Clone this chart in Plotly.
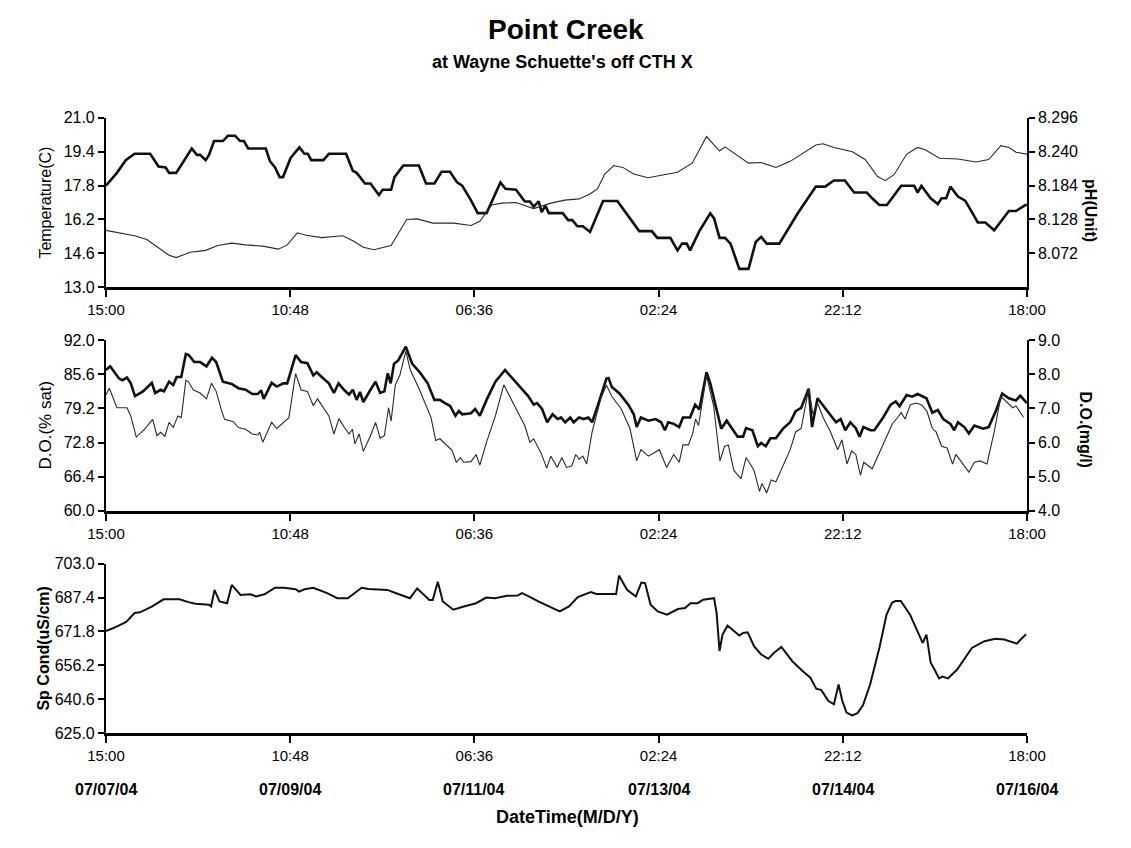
import plotly.graph_objects as go

# ---------------- data (hours since 07/07/04 15:00) ----------------
temp_hours = [0, 2.6, 4.7, 6.8, 10.5, 12.5, 14.2, 15.0, 16.7, 20.4, 21.6, 22.4, 23.7, 24.5, 25.7, 27.8,
              29.0, 30.7, 31.9, 32.8, 33.8, 38.0, 39.0, 40.2, 41.3, 42.1, 43.9, 46.0, 47.2, 48.0, 48.8,
              51.7, 53.0, 57.1, 58.7, 59.6, 61.6, 62.9, 64.9, 65.8, 67.8, 68.6, 70.7, 74.4, 76.1, 78.1,
              79.8, 81.8, 83.5, 84.7, 86.8, 88.4, 90.5, 93.8, 95.0, 97.5, 99.6, 100.8, 101.7, 102.9,
              103.6, 104.5, 105.3, 108.6, 109.9, 110.9, 112.1, 113.4, 115.1, 118.2, 121.6, 126.8,
              129.8, 131.1, 134.2, 135.9, 137.0, 138.1, 138.9, 141.1, 143.7, 144.6, 145.9, 147.2,
              148.5, 150.6, 152.8, 154.5, 155.8, 157.1, 160.1, 164.5, 168.8, 171.0, 173.1, 175.7,
              177.9, 180.9, 182.2, 183.9, 185.7, 189.1, 192.2, 193.0, 193.9, 196.1, 197.8, 198.7,
              199.8, 200.8, 202.6, 204.3, 205.6, 207.3, 209.1, 211.2, 214.7, 216.4, 218.6, 219.0]
temp_values = [17.8, 18.4, 19.0, 19.3, 19.3, 18.7, 18.65, 18.4, 18.4, 19.55, 19.25, 19.25, 19.0, 19.25,
               19.9, 19.9, 20.15, 20.15, 19.9, 19.9, 19.55, 19.55, 18.95, 18.65, 18.2, 18.2, 19.1, 19.6,
               19.3, 19.3, 19.0, 19.0, 19.3, 19.3, 18.5, 18.4, 17.9, 17.9, 17.35, 17.6, 17.6, 18.2,
               18.75, 18.75, 17.9, 17.9, 18.45, 18.45, 17.95, 17.8, 17.1, 16.5, 16.5, 17.95, 17.65,
               17.6, 17.05, 17.05, 16.8, 17.05, 16.55, 16.85, 16.5, 16.5, 16.17, 16.17, 15.88, 15.88,
               15.61, 17.07, 17.07, 15.65, 15.65, 15.33, 15.33, 14.74, 15.06, 15.06, 14.74, 15.65,
               16.49, 16.25, 15.33, 15.33, 15.06, 13.87, 13.87, 15.14, 15.38, 15.06, 15.06, 16.49,
               17.75, 17.75, 18.04, 18.04, 17.47, 17.47, 17.2, 16.88, 16.88, 17.79, 17.79, 17.47,
               17.79, 17.2, 16.93, 17.2, 17.2, 17.75, 17.28, 17.09, 16.65, 16.06, 16.06, 15.69, 16.6,
               16.6, 16.88, 16.88]

ph_hours = [0, 3.5, 6.8, 9.7, 12.5, 15.0, 16.7, 20.0, 23.7, 26.6, 29.9, 33.2, 37.3, 41.0, 43.1, 45.5,
            47.6, 51.3, 56.3, 58.7, 61.2, 63.7, 67.8, 69.9, 71.5, 74.0, 77.7, 82.7, 86.8, 88.9, 91.7,
            94.2, 97.5, 101.7, 105.8, 109.1, 112.5, 115.1, 116.9, 118.6, 120.75, 122.9, 125.5, 128.9,
            132.4, 135.9, 139.4, 142.8, 145.9, 147.2, 152.8, 155.8, 159.3, 162.7, 168.8, 170.5,
            173.1, 177.5, 180.5, 183.5, 185.3, 187.4, 190.4, 193.0, 194.8, 198.2, 202.6, 206.9,
            209.9, 212.8, 214.7, 216.4, 219.0]
ph_values = [8.110, 8.106, 8.101, 8.095, 8.082, 8.069, 8.065, 8.074, 8.077, 8.085, 8.089, 8.086, 8.084,
             8.079, 8.086, 8.106, 8.102, 8.098, 8.101, 8.093, 8.082, 8.078, 8.085, 8.109, 8.128,
             8.129, 8.122, 8.122, 8.118, 8.125, 8.152, 8.155, 8.156, 8.146, 8.155, 8.160, 8.162,
             8.170, 8.179, 8.203, 8.217, 8.214, 8.203, 8.197, 8.202, 8.206, 8.221, 8.265, 8.241,
             8.248, 8.221, 8.222, 8.214, 8.224, 8.251, 8.253, 8.247, 8.240, 8.227, 8.199, 8.192,
             8.202, 8.236, 8.247, 8.243, 8.229, 8.228, 8.223, 8.227, 8.250, 8.247, 8.239, 8.236]

dosat_hours = [0, 1.0, 3.1, 3.9, 5.0, 5.9, 6.9, 8.8, 10.9, 11.7, 13.0, 13.8, 15.0, 16.0, 16.8, 17.9,
               19.0, 19.7, 21.0, 22.4, 23.9, 25.2, 26.2, 27.8, 29.9, 31.5, 33.2, 34.8, 36.1, 36.9,
               37.5, 39.4, 40.6, 42.2, 43.1, 45.1, 46.4, 47.9, 49.3, 50.1, 51.3, 53.0, 54.2, 55.3,
               56.7, 57.8, 58.7, 59.6, 60.4, 61.2, 62.9, 64.1, 65.2, 66.2, 67.0, 67.7, 68.5, 69.5,
               71.3, 72.8, 74.8, 76.5, 78.1, 79.4, 80.6, 81.8, 83.1, 83.9, 84.7, 86.8, 87.8, 88.9,
               90.5, 92.6, 94.9, 96.3, 98.3, 100.4, 101.7, 102.5, 103.7, 104.9, 106.2, 107.4, 108.2,
               109.2, 110.4, 111.2, 112.5, 113.6, 114.7, 115.6, 116.9, 119.0, 119.5, 120.3, 122.1,
               124.2, 125.5, 126.2, 127.2, 129.0, 130.7, 132.0, 132.9, 133.7, 135.0, 136.3, 137.2,
               138.9, 140.1, 141.1, 142.8, 143.7, 145.0, 146.3, 147.6, 148.9, 150.2, 151.5, 152.2,
               153.7, 155.0, 155.8, 156.9, 158.0, 159.3, 161.0, 162.7, 164.0, 165.3, 167.1, 167.9,
               169.2, 171.0, 172.3, 173.6, 174.7, 175.8, 177.0, 178.3, 179.2, 180.1, 181.8, 182.7,
               184.8, 186.6, 187.8, 188.7, 190.4, 191.7, 193.0, 195.1, 196.5, 197.8, 199.1, 200.8,
               201.7, 202.6, 204.1, 205.2, 206.5, 208.6, 209.9, 211.6, 213.1, 214.7, 216.4, 217.4,
               219.0]
dosat_values = [86.4, 87.1, 84.8, 84.5, 85.0, 83.9, 81.5, 82.4, 84.0, 82.1, 82.7, 82.4, 84.2, 83.6,
                85.1, 85.1, 89.4, 89.2, 87.9, 87.9, 87.1, 88.7, 87.9, 84.2, 83.8, 83.0, 82.7, 81.9,
                81.9, 82.6, 81.0, 84.0, 83.3, 83.9, 83.9, 89.2, 87.9, 87.7, 85.4, 86.0, 85.1, 83.9,
                82.1, 83.9, 82.6, 81.8, 82.7, 80.8, 82.3, 80.4, 82.7, 84.2, 82.1, 82.4, 85.8, 83.9,
                87.6, 88.2, 90.8, 87.6, 85.8, 83.9, 80.8, 80.8, 80.2, 79.7, 77.8, 78.7, 78.1, 78.3,
                79.1, 77.8, 80.8, 84.2, 86.4, 85.1, 83.3, 81.5, 79.9, 80.2, 79.1, 76.6, 78.1, 77.2,
                77.5, 76.6, 77.5, 76.6, 77.5, 77.2, 77.5, 76.6, 79.6, 84.8, 84.9, 83.2, 82.0, 79.9,
                78.1, 75.7, 77.5, 76.9, 77.2, 76.6, 75.1, 76.6, 76.3, 75.7, 77.5, 77.5, 79.9, 79.0,
                86.0, 83.9, 79.6, 75.4, 76.9, 75.4, 73.9, 73.9, 75.5, 75.1, 72.1, 72.7, 72.1, 73.6,
                73.6, 75.4, 76.6, 78.7, 79.3, 82.9, 75.7, 81.1, 79.3, 78.1, 76.6, 77.2, 75.1, 76.6,
                75.5, 73.9, 75.7, 75.1, 75.1, 77.5, 79.9, 80.5, 79.6, 81.7, 81.4, 81.9, 81.1, 78.4,
                78.9, 77.2, 76.3, 75.1, 76.6, 75.7, 74.5, 76.0, 75.4, 75.7, 78.7, 82.0, 81.1, 80.7,
                81.6, 80.2]

domg_hours = [0, 0.8, 2.6, 5.0, 5.9, 7.2, 9.2, 11.1, 12.1, 13.0, 14.0, 15.0, 16.0, 17.1, 17.9, 19.0,
              19.6, 20.8, 22.4, 23.9, 25.1, 26.2, 27.4, 28.2, 30.3, 31.5, 33.2, 34.8, 36.1, 36.5,
              37.3, 39.4, 40.6, 42.7, 43.5, 45.1, 46.4, 47.9, 49.3, 50.3, 51.7, 53.0, 54.2, 55.4,
              56.7, 57.8, 58.6, 59.2, 60.2, 61.2, 62.9, 64.1, 65.2, 66.2, 67.2, 67.8, 68.8, 69.9,
              71.3, 72.4, 74.4, 76.1, 77.3, 78.4, 79.4, 81.0, 82.3, 83.3, 84.3, 85.1, 86.8, 88.0,
              88.9, 90.5, 92.6, 94.6, 96.3, 98.0, 99.6, 100.8, 101.7, 102.5, 103.5, 104.8, 105.8,
              107.3, 108.4, 109.5, 110.8, 111.7, 112.5, 113.4, 114.3, 115.6, 117.7, 119.0, 120.3,
              122.5, 124.6, 126.2, 127.2, 129.0, 131.6, 133.3, 135.0, 136.3, 137.2, 138.5, 139.5,
              140.2, 140.9, 142.8, 144.5, 146.0, 147.1, 148.0, 149.3, 151.0, 152.2, 153.2, 154.1,
              155.4, 156.0, 157.1, 158.2, 159.3, 160.6, 162.7, 164.0, 165.3, 167.1, 168.1, 169.2,
              170.5, 172.3, 174.0, 175.0, 176.2, 177.3, 178.3, 179.4, 180.2, 182.2, 184.8, 187.0,
              188.3, 189.1, 190.0, 191.3, 192.6, 193.9, 195.2, 196.5, 197.4, 198.7, 200.0, 201.3,
              202.1, 203.4, 205.2, 206.5, 207.8, 209.5, 211.2, 212.8, 214.3, 215.6, 216.4, 218.2]
domg_values = [7.40, 7.59, 7.02, 7.02, 6.78, 6.16, 6.39, 6.68, 6.20, 6.30, 6.18, 6.59, 6.44, 6.78,
               6.73, 7.83, 7.78, 7.54, 7.45, 7.28, 7.74, 7.50, 6.97, 6.68, 6.61, 6.44, 6.39, 6.25,
               6.22, 6.30, 6.01, 6.59, 6.41, 6.63, 6.73, 8.02, 7.54, 7.50, 7.08, 7.28, 7.02, 6.78,
               6.25, 6.70, 6.44, 6.25, 6.39, 5.96, 6.25, 5.74, 6.20, 6.59, 6.13, 6.20, 7.02, 6.63,
               7.69, 7.98, 8.67, 8.12, 7.59, 7.07, 6.73, 6.06, 6.11, 5.92, 5.77, 5.42, 5.55, 5.42,
               5.44, 5.65, 5.34, 6.01, 6.78, 7.69, 7.26, 6.87, 6.49, 6.01, 6.11, 5.92, 5.68, 5.25,
               5.60, 5.27, 5.56, 5.27, 5.32, 5.65, 5.51, 5.60, 5.37, 6.31, 7.30, 7.68, 7.35, 6.99,
               6.41, 5.46, 5.79, 5.60, 5.79, 5.27, 5.65, 5.42, 5.93, 5.93, 6.26, 6.69, 6.50, 7.96,
               7.07, 5.46, 5.89, 5.92, 5.18, 4.94, 5.56, 5.37, 5.18, 4.57, 4.80, 4.52, 4.90, 4.85,
               5.23, 5.79, 6.31, 6.41, 7.58, 6.83, 7.16, 6.74, 6.31, 5.79, 6.08, 5.37, 5.75, 5.65,
               5.04, 5.42, 5.23, 5.93, 6.55, 6.74, 6.88, 6.69, 7.11, 7.16, 7.11, 6.92, 6.41, 6.31,
               5.89, 5.84, 5.37, 5.65, 5.42, 5.13, 5.42, 5.46, 5.37, 6.31, 7.35, 7.16, 7.02, 7.07,
               6.74]

cond_hours = [0, 2.3, 4.8, 6.8, 8.1, 11.0, 13.7, 17.5, 19.6, 21.3, 24.5, 25.0, 25.8, 27.0, 28.8, 29.9,
              32.0, 34.4, 35.7, 37.7, 40.2, 42.3, 45.1, 45.9, 47.2, 49.3, 52.6, 55.0, 57.5, 60.8,
              62.4, 66.9, 69.0, 72.3, 74.0, 75.2, 76.9, 77.7, 78.9, 80.1, 82.6, 85.1, 88.0, 90.4,
              92.5, 95.4, 97.9, 98.9, 100.3, 102.8, 105.7, 107.9, 110.1, 112.2, 115.3, 116.6, 121.3,
              122.0, 123.9, 126.0, 127.3, 128.2, 129.5, 131.2, 133.4, 136.0, 137.7, 139.0, 140.7,
              142.0, 144.6, 145.2, 145.9, 146.6, 147.8, 149.4, 150.6, 151.5, 152.6, 154.1, 155.8,
              157.5, 158.8, 160.6, 163.2, 165.7, 167.5, 168.9, 170.1, 171.8, 173.1, 174.2, 175.1,
              176.1, 177.4, 178.7, 180.0, 181.7, 183.9, 185.6, 186.9, 187.7, 189.0, 191.2, 194.2,
              195.1, 196.1, 196.8, 198.1, 198.9, 200.2, 202.4, 205.9, 208.9, 211.5, 213.6, 216.6,
              217.5, 218.8]
cond_values = [672.0, 673.8, 676.2, 680.3, 680.6, 683.3, 686.6, 686.6, 685.3, 684.5, 684.1, 683.3,
               690.9, 685.6, 684.8, 693.2, 688.6, 688.9, 687.9, 688.9, 691.9, 691.9, 691.2, 690.1,
               691.2, 691.9, 689.4, 687.1, 687.1, 691.9, 691.3, 690.9, 689.4, 687.1, 691.6, 689.4,
               686.3, 686.3, 694.7, 685.6, 681.8, 683.3, 684.8, 687.4, 687.1, 688.2, 688.3, 689.4,
               688.2, 685.6, 682.9, 681.0, 683.3, 687.6, 689.9, 689.0, 689.0, 697.5, 691.0, 687.9,
               694.3, 694.0, 684.1, 681.0, 679.5, 682.1, 682.6, 684.8, 684.8, 686.4, 687.1, 680.3,
               662.8, 670.3, 674.5, 671.9, 669.9, 671.1, 671.4, 665.0, 661.2, 659.2, 661.9, 664.7,
               658.1, 653.5, 650.5, 645.5, 644.8, 639.8, 638.3, 647.4, 639.8, 634.5, 633.2, 634.2,
               637.8, 647.4, 664.2, 679.5, 685.0, 685.8, 685.8, 679.5, 666.5, 670.3, 657.4, 655.1,
               650.2, 651.0, 650.2, 654.3, 664.2, 667.3, 668.4, 668.1, 666.2, 668.1, 670.5]

time_tick_hours = [0.0, 43.8, 87.6, 131.4, 175.2, 219.0]
time_tick_labels = ["15:00", "10:48", "06:36", "02:24", "22:12", "18:00"]
date_labels = ["07/07/04", "07/09/04", "07/11/04", "07/13/04", "07/14/04", "07/16/04"]

temp_ticks = [13.0, 14.6, 16.2, 17.8, 19.4, 21.0]
ph_ticks = [8.072, 8.128, 8.184, 8.240, 8.296]
dosat_ticks = [60.0, 66.4, 72.8, 79.2, 85.6, 92.0]
domg_ticks = [4.0, 5.0, 6.0, 7.0, 8.0, 9.0]
cond_ticks = [625.0, 640.6, 656.2, 671.8, 687.4, 703.0]

# ---------------- layout ----------------
W, H = 1131, 848
FONT = "Liberation Sans, Arial, Helvetica, sans-serif"
x_dom = [90 / W, 1043 / W]


def ydom(top_px, bot_px):
    return [1 - bot_px / H, 1 - top_px / H]


fig = go.Figure()
thick = dict(color="#111111", width=2.6)
thin = dict(color="#2a2a2a", width=1.1)

fig.add_trace(go.Scatter(x=temp_hours, y=temp_values, mode="lines", line=thick,
                         xaxis="x", yaxis="y", name="Temperature"))
fig.add_trace(go.Scatter(x=ph_hours, y=ph_values, mode="lines", line=thin,
                         xaxis="x", yaxis="y2", name="pH"))
fig.add_trace(go.Scatter(x=dosat_hours, y=dosat_values, mode="lines", line=thick,
                         xaxis="x2", yaxis="y3", name="D.O. % sat"))
fig.add_trace(go.Scatter(x=domg_hours, y=domg_values, mode="lines", line=thin,
                         xaxis="x2", yaxis="y4", name="D.O. mg/l"))
fig.add_trace(go.Scatter(x=cond_hours, y=cond_values, mode="lines",
                         line=dict(color="#111111", width=2.0),
                         xaxis="x3", yaxis="y5", name="Sp Cond"))

xcommon = dict(domain=x_dom, range=[0, 219], tickmode="array", tickvals=time_tick_hours,
               ticktext=time_tick_labels, ticks="outside", ticklen=7, tickwidth=2,
               tickcolor="black", showline=True, linewidth=3, linecolor="black",
               showgrid=False, zeroline=False, tickfont=dict(size=15, color="black"),
               fixedrange=True)
yleft = dict(ticks="outside", ticklen=6, tickwidth=2, tickcolor="black", showline=True,
             linewidth=2, linecolor="black", showgrid=False, zeroline=False,
             tickfont=dict(size=16, color="black"), tickmode="array", tickformat=".1f")
yright = dict(ticks="outside", ticklen=6, tickwidth=1.5, tickcolor="black", showline=True,
              linewidth=1.5, linecolor="black", showgrid=False, zeroline=False,
              tickfont=dict(size=16, color="black"), tickmode="array", side="right")

top_dom = ydom(112, 285)
mid_dom = ydom(339, 513)
bot_dom = ydom(567, 740)

fig.update_layout(
    width=W, height=H, autosize=False,
    margin=dict(l=0, r=0, t=0, b=0),
    paper_bgcolor="white", plot_bgcolor="white",
    showlegend=False,
    font=dict(family=FONT, color="black"),
    xaxis=dict(xcommon, anchor="y"),
    xaxis2=dict(xcommon, anchor="y3"),
    xaxis3=dict(xcommon, anchor="y5"),
    yaxis=dict(yleft, domain=top_dom, anchor="x", range=[13, 21], tickvals=temp_ticks),
    yaxis2=dict(yright, overlaying="y", anchor="x", range=[8.016, 8.296], tickvals=ph_ticks,
                tickformat=".3f"),
    yaxis3=dict(yleft, domain=mid_dom, anchor="x2", range=[60, 92], tickvals=dosat_ticks),
    yaxis4=dict(yright, overlaying="y3", anchor="x2", range=[4, 9], tickvals=domg_ticks,
                tickformat=".1f"),
    yaxis5=dict(yleft, domain=bot_dom, anchor="x3", range=[625, 703], tickvals=cond_ticks),
)

ann = []


def add_text(text, x, y, size, bold=False, angle=0, xref="paper", xanchor="center"):
    ann.append(dict(text=("<b>%s</b>" % text) if bold else text, x=x, y=y, xref=xref,
                    yref="paper", showarrow=False, textangle=angle, xanchor=xanchor,
                    yanchor="middle", font=dict(size=size, family=FONT, color="black")))


add_text("Point Creek", 566 / W, 1 - 22 / H, 28, bold=True)
add_text("at Wayne Schuette's off CTH X", 562 / W, 1 - 55 / H, 18, bold=True)

add_text("Temperature(C)", 27 / W, (top_dom[0] + top_dom[1]) / 2, 16, angle=-90)
add_text("D.O.(% sat)", 27 / W, (mid_dom[0] + mid_dom[1]) / 2, 17, angle=-90)
add_text("Sp Cond(uS/cm)", 25 / W, (bot_dom[0] + bot_dom[1]) / 2, 16, bold=True, angle=-90)
add_text("pH(Unit)", 1108 / W, 1 - 207 / H, 16, bold=True, angle=90)
add_text("D.O.(mg/l)", 1104 / W, 1 - 430 / H, 16, bold=True, angle=90)

for hx, lab in zip(time_tick_hours, date_labels):
    add_text(lab, hx, 1 - 797 / H, 16, bold=True, xref="x3")

add_text("DateTime(M/D/Y)", 568 / W, 1 - 826 / H, 18, bold=True)

fig.update_layout(annotations=ann)

fig.write_html("out.html", config={"displayModeBar": False},
               post_script="document.body.style.margin='0';document.body.style.overflow='hidden';")
